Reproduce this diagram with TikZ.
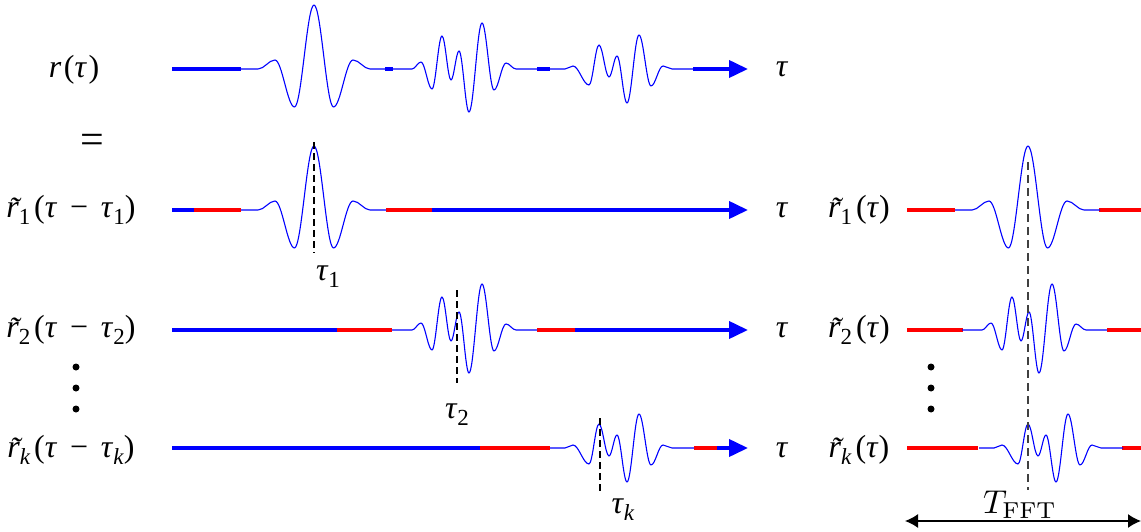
\documentclass[tikz,border=0pt]{standalone}
\usepackage[no-math]{fontspec}
\setmainfont{Liberation Serif}
\usetikzlibrary{arrows.meta}
\definecolor{wblue}{RGB}{0,0,255}
\definecolor{wred}{RGB}{255,0,0}
\definecolor{dgray}{RGB}{64,64,64}
\newcommand{\sbs}[1]{\raisebox{-0.22em}{\fontsize{23}{23}\selectfont #1}}
\newcommand{\msp}{\hspace{0.4em}}
\newcommand{\gp}{\kern0.12em}
\newcommand{\rt}{{\itshape\ooalign{r\cr\hidewidth\kern0.1em\raisebox{-0.05em}{\char"02DC}\hidewidth\cr}}}
\newcommand{\wave}[5]{%
  \draw[wline, shift={(#1,#2)}] (#3,#4)
    \foreach \x/\y [remember=\x as \lx (initially #3), remember=\y as \ly (initially #4)] in {#5}
      { .. controls ({\lx+0.36*(\x-\lx)},\ly) and ({\x-0.36*(\x-\lx)},\y) .. (\x,\y) };}
\newcommand{\waveA}[2]{\wave{#1}{#2}{-73}{0}{-56/0, -39/-9, -19.5/38, 0/-64, 19.5/38, 39/-9, 56/0, 72/0}}
\newcommand{\waveB}[2]{\wave{#1}{#2}{392}{0}{412/0, 421/-7, 432/20, 442/-33, 451/11, 459/-18, 469/43, 482/-46, 494/21, 506/-6, 516/0, 537/0}}
\newcommand{\waveC}[2]{\wave{#1}{#2}{550}{0}{565/0, 573/-3, 589/16, 599/-24, 609/8, 617/-13, 627/34, 639/-34, 651/17, 663/-3, 672/0, 694/0}}
\begin{document}
\begin{tikzpicture}[x=1pt,y=-1pt,
  wline/.style={wblue, line width=1.1pt, line join=round},
  bax/.style={wblue, line width=3.8pt},
  rax/.style={wred, line width=3.8pt},
  arr/.style={bax, -{Triangle[length=19pt,width=17pt]}},
  lab/.style={inner sep=0pt, font=\fontsize{32}{36}\selectfont},
  tdash/.style={black, line width=1.2pt, dash pattern=on 7pt off 4pt},
  gdash/.style={dgray, line width=2pt, dash pattern=on 8pt off 5pt},
  vdot/.style={circle, fill=black, inner sep=0pt, minimum size=7pt}]
\useasboundingbox (0,0) rectangle (1141,532);

% ---------- labels ----------
\node[lab] (lr) at (74,70) {\textit{r}\kern0.08em(\textit{τ}\kern0.05em)};
\node[lab, font=\fontsize{42}{42}\selectfont] (leq) at (92,144) {=};
\node[lab] (l1) at (71,210) {\rt\sbs{1}\gp(\textit{τ}\msp−\msp\textit{τ}\sbs{1})};
\node[lab] (l2) at (71,330) {\rt\sbs{2}\gp(\textit{τ}\msp−\msp\textit{τ}\sbs{2})};
\node[lab] (lk) at (71,450) {\rt\sbs{\textit{k}}\gp(\textit{τ}\msp−\msp\textit{τ}\sbs{\textit{k}})};
\node[vdot] (d1) at (76,367) {};
\node[vdot] (d2) at (76,388) {};
\node[vdot] (d3) at (76,409) {};

\node[lab] (tr) at (782,69) {\textit{τ}};
\node[lab] (t1) at (782,210) {\textit{τ}};
\node[lab] (t2) at (782,330) {\textit{τ}};
\node[lab] (tk) at (782,450) {\textit{τ}};

\node[lab] (tau1) at (328,277) {\textit{τ}\sbs{1}};
\node[lab] (tau2) at (457,415) {\textit{τ}\sbs{2}};
\node[lab] (tauk) at (623,510) {\textit{τ}\sbs{\textit{k}}};

\node[lab] (q1) at (859,210) {\rt\sbs{1}\gp(\textit{τ})};
\node[lab] (q2) at (859,330) {\rt\sbs{2}\gp(\textit{τ})};
\node[lab] (qk) at (859,450) {\rt\sbs{\textit{k}}\gp(\textit{τ})};
\node[vdot] (e1) at (931,367) {};
\node[vdot] (e2) at (931,388) {};
\node[vdot] (e3) at (931,409) {};

\node[inner sep=0pt] (tfft) at (1020,505) {\scalebox{3.3}{$T_{\mathrm{FFT}}$}};

% ---------- row r(tau) ----------
\draw[bax] (172,69) -- (241,69);
\draw[bax] (385,69) -- (393,69);
\draw[bax] (537,69) -- (550,69);
\draw[arr] (693,69) -- (748,69);
\waveA{314}{69}
\waveB{0}{69}
\waveC{0}{69}

% ---------- row 1 ----------
\draw[bax] (172,210) -- (194,210);
\draw[rax] (194,210) -- (241,210);
\draw[rax] (386,210) -- (432,210);
\draw[arr] (432,210) -- (748,210);
\waveA{314}{210}

% ---------- row 2 ----------
\draw[bax] (172,330) -- (337,330);
\draw[rax] (337,330) -- (392,330);
\draw[rax] (537,330) -- (575,330);
\draw[arr] (575,330) -- (748,330);
\waveB{0}{330}

% ---------- row k ----------
\draw[bax] (172,448) -- (480,448);
\draw[rax] (480,448) -- (550,448);
\draw[rax] (694,448) -- (717,448);
\draw[arr] (717,448) -- (748,448);
\waveC{0}{448}

% ---------- right column ----------
\draw[rax] (907,210) -- (955,210);
\draw[rax] (1099,210) -- (1141,210);
\waveA{1028}{210}
\draw[rax] (907,330) -- (963,330);
\draw[rax] (1107,330) -- (1141,330);
\waveB{570}{330}
\draw[rax] (907,448) -- (978,448);
\draw[rax] (1122,448) -- (1141,448);
\waveC{429}{448}

% ---------- dashed markers ----------
\draw[tdash] (314,142) -- (314,253);
\draw[tdash] (457,290) -- (457,383);
\draw[tdash] (600,418) -- (600,494);
\draw[gdash] (1028,162) -- (1028,490);

% ---------- T_FFT span ----------
\coordinate (sl) at (905,521);
\coordinate (sr) at (1141,521);
\draw[black, line width=1.5pt, {Latex[length=13pt,width=14pt]}-{Latex[length=13pt,width=14pt]}] (sl) -- (sr);
\end{tikzpicture}
\end{document}
